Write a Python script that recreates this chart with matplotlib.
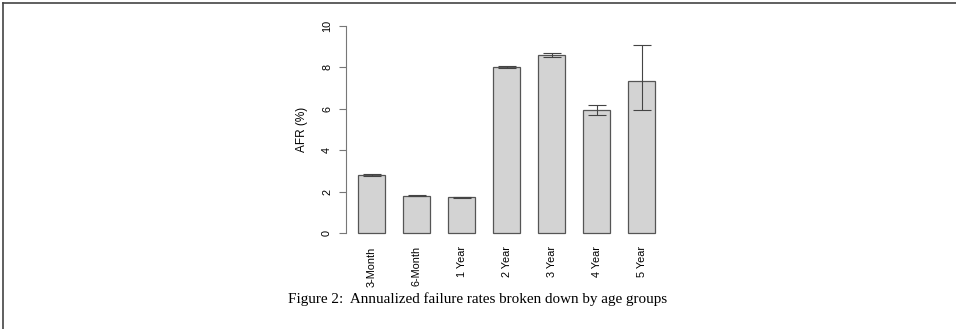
import matplotlib
matplotlib.use("Agg")
import matplotlib.pyplot as plt
from matplotlib.lines import Line2D

# age groups and annualized failure rates (%)
groups = ["3-Month", "6-Month", "1 Year", "2 Year", "3 Year", "4 Year", "5 Year"]
afr = [2.78, 1.80, 1.72, 8.01, 8.62, 5.92, 7.33]
err_low = [2.73, 1.77, 1.70, 7.97, 8.50, 5.72, 5.92]
err_high = [2.84, 1.82, 1.74, 8.06, 8.70, 6.16, 9.07]

W, H = 956, 329
fig = plt.figure(figsize=(W / 100, H / 100), dpi=100)
fig.patch.set_facecolor("white")

# axes placed in pixel terms: y=0 at 233 px, y=10 at 26 px
px_per = 20.7
y0 = 233
ylo, yhi = -0.4, 10.4
bottom = (H - (y0 + (0 - ylo) * px_per)) / H
height = (yhi - ylo) * px_per / H
left_px, right_px = 346, 665
ax = fig.add_axes([left_px / W, bottom, (right_px - left_px) / W, height])

x = list(range(len(groups)))
ax.bar(x, afr, width=0.6, color="#d3d3d3", edgecolor="#555555", linewidth=0.9, zorder=2)
yerr = [[a - l for a, l in zip(afr, err_low)], [h - a for a, h in zip(afr, err_high)]]
ax.errorbar(x, afr, yerr=yerr, fmt="none", ecolor="#444444", elinewidth=0.8,
            capsize=6.5, capthick=0.8, zorder=3)

ax.set_xlim(-0.567, 6.52)
ax.set_ylim(ylo, yhi)
for s in ["top", "right", "bottom"]:
    ax.spines[s].set_visible(False)
ax.spines["left"].set_bounds(0, 10)
ax.spines["left"].set_color("#777777")
ax.spines["left"].set_linewidth(0.8)
ax.set_yticks([0, 2, 4, 6, 8, 10])
ax.set_yticklabels(["0", "2", "4", "6", "8", "10"], rotation=90, va="center",
                   family="Liberation Sans", fontsize=7.8)
ax.tick_params(axis="y", length=5, width=0.8, color="#777777", pad=5)
ax.set_xticks(x)
ax.set_xticklabels(groups, rotation=90, family="Liberation Sans", fontsize=7.8)
ax.tick_params(axis="x", length=0, pad=3.6)
ax.set_ylabel("AFR (%)", family="Liberation Sans", fontsize=8.5, labelpad=10)

fig.text(0.5, 1 - 299 / H, "Figure 2:  Annualized failure rates broken down by age groups",
         ha="center", va="center", family="Liberation Serif", fontsize=10.9)

# partial frame along the top and left edges
fig.add_artist(Line2D([3 / W, 1], [1 - 3 / H, 1 - 3 / H], color="#444444", lw=1.2))
fig.add_artist(Line2D([3 / W, 3 / W], [0, 1 - 3 / H], color="#444444", lw=1.2))

fig.savefig("out.png", dpi=100)
